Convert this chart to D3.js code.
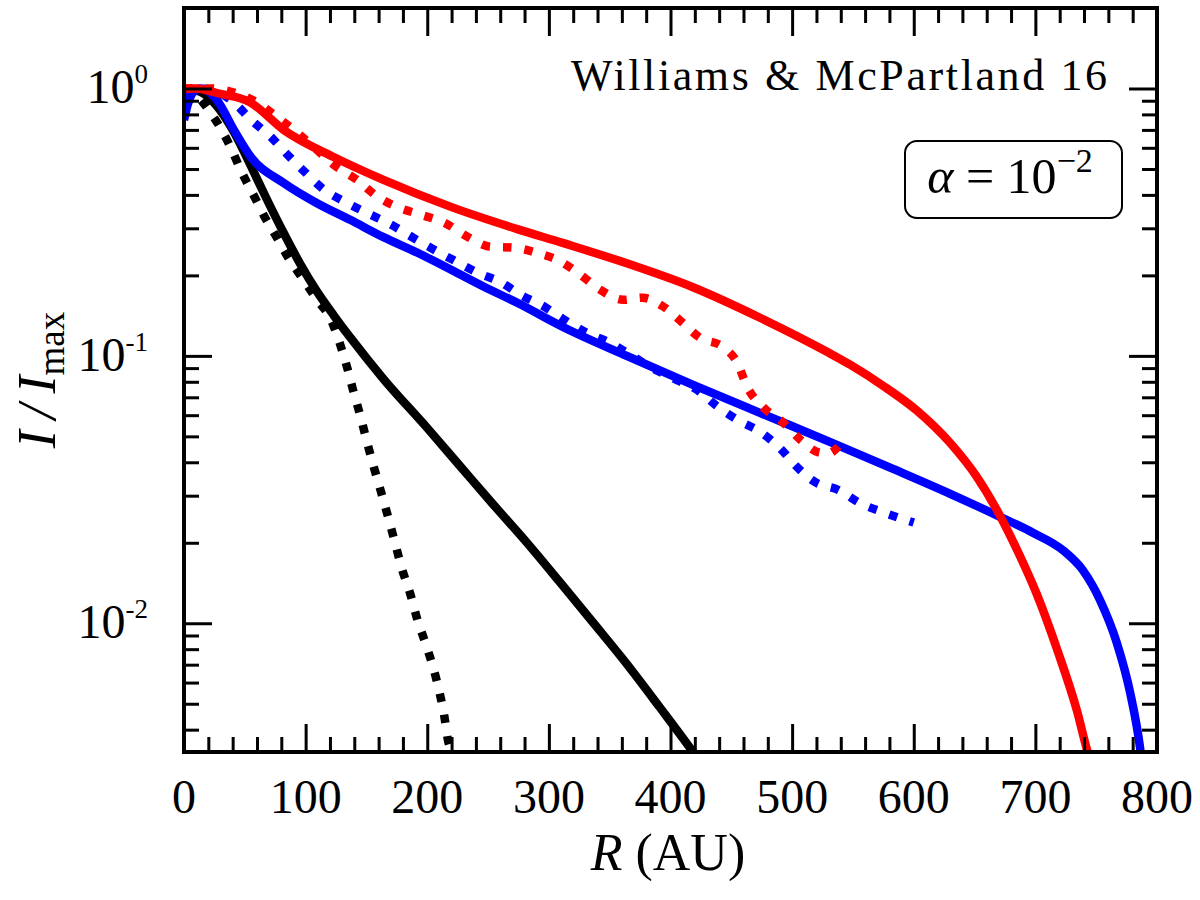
<!DOCTYPE html>
<html>
<head>
<meta charset="utf-8">
<script src="https://cdn.jsdelivr.net/npm/d3@7"></script>
<style>
  body { margin: 0; background: #fff; }
  text { font-family: "Liberation Serif", "DejaVu Serif", serif; fill: #000; }
</style>
</head>
<body>
<script>
// ---- data (R in AU, I/Imax) ----
var tickR = [0, 100, 200, 300, 400, 500, 600, 700, 800];
var minorR = d3.range(0, 801, 20).filter(function(v) { return v % 100 !== 0; });
var tickExp = [0, -1, -2];

var redSolidR = [0, 10, 18, 27, 54, 82, 123, 164, 220, 274, 312, 364, 418, 474, 529, 548, 575, 603, 630, 652, 671, 685, 701, 718, 734, 743, 747];
var redSolidI = [1.0, 1.0, 0.987, 0.962, 0.89, 0.70, 0.554, 0.455, 0.360, 0.298, 0.264, 0.222, 0.181, 0.1386, 0.1034, 0.0925, 0.0772, 0.0622, 0.0472, 0.0352, 0.0252, 0.0188, 0.0129, 0.00795, 0.00474, 0.0033, 0.0029];

var redDotR = [0, 22, 41, 60, 76, 93, 109, 123, 142, 159, 175, 195, 214, 233, 252, 271, 290, 310, 326, 342, 361, 377, 394, 410, 424, 443, 455, 463, 476, 492, 507, 521, 530, 539];
var redDotI = [1.0, 1.0, 0.966, 0.887, 0.785, 0.684, 0.591, 0.519, 0.456, 0.394, 0.361, 0.337, 0.315, 0.279, 0.256, 0.254, 0.243, 0.225, 0.201, 0.177, 0.162, 0.165, 0.153, 0.133, 0.117, 0.108, 0.094, 0.0766, 0.0644, 0.0566, 0.0485, 0.0437, 0.0432, 0.0464];

var blueSolidR = [0, 3, 7, 13, 18, 27, 41, 55, 82, 109, 137, 164, 192, 220, 247, 274, 312, 364, 419, 474, 529, 583, 630, 671, 698, 723, 739, 753, 767, 778, 786, 788];
var blueSolidI = [0.762, 0.868, 0.962, 1.0, 0.987, 0.906, 0.700, 0.554, 0.443, 0.373, 0.322, 0.278, 0.243, 0.2095, 0.181, 0.158, 0.128, 0.100, 0.0778, 0.0611, 0.0481, 0.0378, 0.0305, 0.0250, 0.0218, 0.0187, 0.0158, 0.01225, 0.00844, 0.00548, 0.00344, 0.0029];

var blueDotR = [0, 8, 22, 41, 55, 72, 85, 100, 115, 132, 150, 170, 187, 206, 224, 241, 261, 277, 296, 310, 331, 350, 367, 383, 405, 422, 438, 455, 474, 490, 504, 519, 538, 556, 575, 600];
var blueDotI = [0.93, 1.0, 0.99, 0.887, 0.765, 0.655, 0.566, 0.484, 0.419, 0.377, 0.343, 0.310, 0.279, 0.249, 0.225, 0.205, 0.188, 0.169, 0.153, 0.139, 0.122, 0.112, 0.101, 0.091, 0.0813, 0.0746, 0.065, 0.0576, 0.0519, 0.0452, 0.0384, 0.0337, 0.0315, 0.0281, 0.0260, 0.0238];

var blackSolidR = [0, 14, 27, 41, 55, 68, 82, 96, 109, 123, 137, 164, 200, 227, 254, 282, 309, 336, 364, 391, 418.5, 425];
var blackSolidI = [1.0, 0.970, 0.860, 0.688, 0.513, 0.386, 0.288, 0.219, 0.175, 0.142, 0.1167, 0.0820, 0.0537, 0.0387, 0.0279, 0.0200, 0.01426, 0.01011, 0.00705, 0.00486, 0.0033, 0.0030];

var blackDotR = [0, 10, 22, 30, 39, 47, 58, 66, 76.5, 85, 96, 109, 121, 128, 134, 139, 145, 150.5, 156, 162, 168, 173.5, 179, 186, 192, 199, 205, 210, 214, 217, 219, 219.5];
var blackDotI = [1.0, 0.946, 0.810, 0.712, 0.594, 0.491, 0.393, 0.333, 0.276, 0.236, 0.199, 0.163, 0.136, 0.1117, 0.0909, 0.0745, 0.0596, 0.0476, 0.0385, 0.0310, 0.0248, 0.0200, 0.0161, 0.0129, 0.01028, 0.0083, 0.0068, 0.00553, 0.0045, 0.00366, 0.0033, 0.0030];

var series = [
    { R: blackSolidR, I: blackSolidI, color: "#000", dotted: false },
    { R: blackDotR,   I: blackDotI,   color: "#000", dotted: true },
    { R: blueSolidR,  I: blueSolidI,  color: "#0000ff", dotted: false },
    { R: blueDotR,    I: blueDotI,    color: "#0000ff", dotted: true },
    { R: redSolidR,   I: redSolidI,   color: "#ff0000", dotted: false },
    { R: redDotR,     I: redDotI,     color: "#ff0000", dotted: true }
];

var width = 1200, height = 900;
// plot box edges (px)
var pLeft = 184, pRight = 1157, pTop = 8, pBottom = 752;

var svg = d3.select("body").append("svg")
            .attr("width", width)
            .attr("height", height);

var xScale = d3.scaleLinear().domain([0, 800]).range([pLeft, pRight]);
var yScale = d3.scaleLog().domain([0.0033, 2]).range([pBottom, pTop]);

svg.append("clipPath").attr("id", "clip")
   .append("rect")
   .attr("x", pLeft).attr("y", pTop)
   .attr("width", pRight - pLeft).attr("height", pBottom - pTop);

// curves
var line = d3.line()
             .x(function(d) { return xScale(d[0]); })
             .y(function(d) { return yScale(d[1]); })
             .curve(d3.curveMonotoneX);

var plot = svg.append("g").attr("clip-path", "url(#clip)");
series.forEach(function(s) {
    var pts = s.R.map(function(r, i) { return [r, s.I[i]]; });
    plot.append("path")
        .attr("d", line(pts))
        .attr("fill", "none")
        .attr("stroke", s.color)
        .attr("stroke-width", 8.5)
        .attr("stroke-dasharray", s.dotted ? "8.5,13" : null);
});

// minor y ticks: 2..9 x each decade
var minorY = [];
[-3, -2, -1, 0].forEach(function(e) {
    for (var k = 2; k <= 9; k++) {
        var v = k * Math.pow(10, e);
        if (v > 0.0033 && v < 2) minorY.push(v);
    }
});
var majorY = tickExp.map(function(e) { return Math.pow(10, e); });

function styleAxis(g) {
    g.select(".domain").remove();
    g.selectAll(".tick line").attr("stroke", "#000").attr("stroke-width", 3);
}

// bottom / top ticks
svg.append("g").attr("transform", "translate(0," + pBottom + ")")
   .call(d3.axisBottom(xScale).tickValues(tickR).tickSize(-28).tickFormat(""))
   .call(styleAxis);
svg.append("g").attr("transform", "translate(0," + pBottom + ")")
   .call(d3.axisBottom(xScale).tickValues(minorR).tickSize(-15).tickFormat(""))
   .call(styleAxis);
svg.append("g").attr("transform", "translate(0," + pTop + ")")
   .call(d3.axisTop(xScale).tickValues(tickR).tickSize(-28).tickFormat(""))
   .call(styleAxis);
svg.append("g").attr("transform", "translate(0," + pTop + ")")
   .call(d3.axisTop(xScale).tickValues(minorR).tickSize(-15).tickFormat(""))
   .call(styleAxis);

// left / right ticks
svg.append("g").attr("transform", "translate(" + pLeft + ",0)")
   .call(d3.axisLeft(yScale).tickValues(majorY).tickSize(-28).tickFormat(""))
   .call(styleAxis);
svg.append("g").attr("transform", "translate(" + pLeft + ",0)")
   .call(d3.axisLeft(yScale).tickValues(minorY).tickSize(-15).tickFormat(""))
   .call(styleAxis);
svg.append("g").attr("transform", "translate(" + pRight + ",0)")
   .call(d3.axisRight(yScale).tickValues(majorY).tickSize(-28).tickFormat(""))
   .call(styleAxis);
svg.append("g").attr("transform", "translate(" + pRight + ",0)")
   .call(d3.axisRight(yScale).tickValues(minorY).tickSize(-15).tickFormat(""))
   .call(styleAxis);

// frame
svg.append("rect")
   .attr("x", pLeft).attr("y", pTop)
   .attr("width", pRight - pLeft).attr("height", pBottom - pTop)
   .attr("fill", "none").attr("stroke", "#000").attr("stroke-width", 4);

// x tick labels
svg.selectAll(".xlab").data(tickR).enter().append("text")
   .attr("class", "xlab")
   .attr("x", function(d) { return xScale(d); })
   .attr("y", 813)
   .attr("text-anchor", "middle")
   .style("font-size", "48px")
   .text(function(d) { return d; });

// y tick labels 10^e
tickExp.forEach(function(e) {
    var t = svg.append("text")
               .attr("x", 148)
               .attr("y", yScale(Math.pow(10, e)) + 15)
               .attr("text-anchor", "end")
               .style("font-size", "48px");
    t.append("tspan").text("10");
    t.append("tspan").attr("dy", -20).style("font-size", "27px").text(e === 0 ? "0" : "-" + (-e));
});

// axis labels
var xl = svg.append("text")
            .attr("x", 668).attr("y", 870)
            .attr("text-anchor", "middle")
            .style("font-size", "52px");
xl.append("tspan").style("font-style", "italic").text("R");
xl.append("tspan").text(" (AU)");

var yl = svg.append("text")
            .attr("transform", "translate(55,380) rotate(-90)")
            .attr("text-anchor", "middle")
            .style("font-size", "54px");
yl.append("tspan").style("font-style", "italic").text("I\u2009/\u2009I");
yl.append("tspan").attr("dy", 9).style("font-size", "37px").text("max");

// annotation
svg.append("text")
   .attr("x", 1107).attr("y", 90)
   .attr("text-anchor", "end")
   .attr("textLength", 536)
   .attr("lengthAdjust", "spacing")
   .style("font-size", "44px")
   .text("Williams & McPartland 16");

svg.append("rect")
   .attr("x", 905).attr("y", 141)
   .attr("width", 217).attr("height", 77)
   .attr("rx", 12).attr("ry", 12)
   .attr("fill", "#fff").attr("stroke", "#000").attr("stroke-width", 2);

var al = svg.append("text")
            .attr("x", 1010).attr("y", 193)
            .attr("text-anchor", "middle")
            .style("font-size", "50px");
al.append("tspan").style("font-style", "italic").text("\u03B1");
al.append("tspan").text(" = 10");
al.append("tspan").attr("dy", -21).style("font-size", "34px").text("\u22122");
</script>
</body>
</html>
